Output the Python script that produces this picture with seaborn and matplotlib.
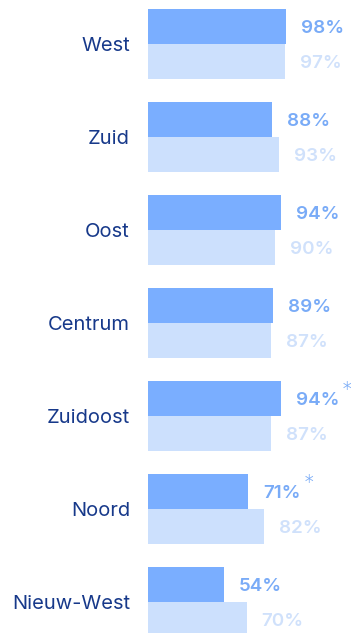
import matplotlib
matplotlib.use("Agg")
import matplotlib.pyplot as plt
import seaborn as sns
import pandas as pd

# Data
stadsdelen = ["West", "Zuid", "Oost", "Centrum", "Zuidoost", "Noord", "Nieuw-West"]
huidig = [98, 88, 94, 89, 94, 71, 54]
vorig = [97, 93, 90, 87, 87, 82, 70]
significant = [False, False, False, False, True, True, False]
reeksen = ["huidig", "vorig"]

df = pd.DataFrame({
    "stadsdeel": stadsdelen * 2,
    "reeks": [reeksen[0]] * len(stadsdelen) + [reeksen[1]] * len(stadsdelen),
    "waarde": huidig + vorig,
})

donker = "#7aaeff"
licht = "#cce0fd"
tekst_donker = "#79abf7"
tekst_licht = "#d0e1fb"
navy = "#17398a"

sns.set_theme(style="white")
plt.rcParams["font.family"] = ["Inter", "DejaVu Sans"]

W, H = 351, 633
fig = plt.figure(figsize=(W / 100, H / 100), dpi=100)
x0 = 148
ax = fig.add_axes([x0 / W, 0, 1 - x0 / W, 1])

sns.barplot(data=df, y="stadsdeel", x="waarde", hue="reeks", order=stadsdelen,
            hue_order=reeksen, palette=[donker, licht], orient="h",
            width=0.75, gap=0, legend=False, ax=ax, saturation=1, linewidth=0)

px_per_unit = 141 / 100
ax.set_xlim(0, (W - x0) / px_per_unit)
ax.set_ylim((H - 44) / 93, -44 / 93)

for s in ax.spines.values():
    s.set_visible(False)
ax.set_xticks([])
ax.set_xlabel("")
ax.set_ylabel("")
ax.tick_params(axis="y", length=0, pad=13)
ax.set_yticks(range(len(stadsdelen)))
ax.set_yticklabels(stadsdelen, fontsize=14.5, color=navy, fontweight="normal")

off = 15 / px_per_unit
for i, (a, b, sig) in enumerate(zip(huidig, vorig, significant)):
    t = ax.text(a + off, i - 0.165, f"{a}%", va="center", ha="left", fontsize=13.5,
                fontweight="semibold", color=tekst_donker)
    if sig:
        ax.annotate("*", xy=(1, 1), xycoords=t, xytext=(2, 1), textcoords="offset points",
                    va="center", ha="left", fontsize=15, fontweight="light",
                    color=tekst_donker)
    ax.text(b + off, i + 0.21, f"{b}%", va="center", ha="left", fontsize=13.5,
            fontweight="semibold", color=tekst_licht)

fig.savefig("out.png", dpi=100)
